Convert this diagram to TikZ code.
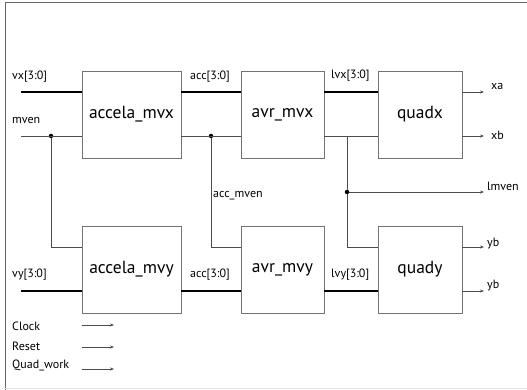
\documentclass[tikz,border=0pt]{standalone}
\usepackage{fontspec}
\setmainfont{PT Sans}
\usetikzlibrary{arrows.meta}
\begin{document}
\begin{tikzpicture}[x=1pt,y=-1pt,
  blk/.style={draw=black!55,line width=0.8pt,fill=white,minimum width=99pt,minimum height=87pt,inner sep=0pt,font=\fontsize{17.5}{18}\selectfont},
  bus/.style={line width=1.6pt,black},
  sig/.style={line width=0.8pt,black!70},
  arr/.style={sig,-{Stealth[length=4pt,width=3pt]}},
  lbl/.style={anchor=base west,inner sep=0pt,font=\fontsize{12}{12}\selectfont},
  dot/.style={circle,fill=black,inner sep=0pt,minimum size=4.5pt}]
\useasboundingbox (0,0) rectangle (527,390);
\draw[black!60,line width=1pt] (5,390) -- (5,3) -- (527,3);
\draw[black!10,line width=0.8pt] (5,388) -- (527,388);

% blocks
\node[blk,minimum width=99pt] (amx) at (131.5,114.5) {accela\_mvx};
\node[blk,minimum width=83pt] (avx) at (282.5,114.5) {avr\_mvx};
\node[blk,minimum width=84pt] (qx) at (420,114.5) {quadx};
\node[blk,minimum width=99pt] (amy) at (131.5,269.5) {accela\_mvy};
\node[blk,minimum width=83pt] (avy) at (282.5,269.5) {avr\_mvy};
\node[blk,minimum width=84pt] (qy) at (420,269.5) {quady};

% coordinates
\coordinate (vxin) at (21,92);
\coordinate (mvin) at (21,136);
\coordinate (vyin) at (21,291);
\node[dot] (d1) at (51,136) {};
\node[dot] (d2) at (211,136) {};
\node[dot] (d3) at (347,192) {};
\coordinate (xaend) at (484,92);
\coordinate (xbend) at (484,136);
\coordinate (lmend) at (484,192);
\coordinate (ya) at (484,247);
\coordinate (yb2) at (484,291);

% buses
\draw[bus] (vxin) -- (vxin -| amx.west);
\draw[bus] (amx.east |- vxin) -- (avx.west |- vxin);
\draw[bus] (avx.east |- vxin) -- (qx.west |- vxin);
\draw[bus] (vyin) -- (vyin -| amy.west);
\draw[bus] (amy.east |- vyin) -- (avy.west |- vyin);
\draw[bus] (avy.east |- vyin) -- (qy.west |- vyin);

% control signals
\draw[sig] (mvin) -- (mvin -| amx.west);
\draw[sig] (d1) |- (amy.west |- 0,247);
\draw[sig] (amx.east |- d2) -- (avx.west |- d2);
\draw[sig] (d2) |- (avy.west |- 0,247);
\draw[sig] (avx.east |- 0,136) -- (qx.west |- 0,136);
\draw[sig] (d3 |- 0,136) -- (d3) |- (qy.west |- 0,247);
\draw[arr] (d3) -- (lmend);

% outputs
\draw[arr] (qx.east |- xaend) -- (xaend);
\draw[arr] (qx.east |- xbend) -- (xbend);
\draw[arr] (qy.east |- ya) -- (ya);
\draw[arr] (qy.east |- yb2) -- (yb2);

% global inputs
\coordinate (ck0) at (82,325); \coordinate (ck1) at (114,325);
\coordinate (rs0) at (82,347); \coordinate (rs1) at (114,347);
\coordinate (qw0) at (82,369); \coordinate (qw1) at (114,369);
\draw[arr] (ck0) -- (ck1);
\draw[arr] (rs0) -- (rs1);
\draw[arr] (qw0) -- (qw1);

% labels
\node[lbl] (lvx) at (12,80) {vx[3:0]};
\node[lbl] (lmv) at (12,124) {mven};
\node[lbl] (lacc1) at (190,80) {acc[3:0]};
\node[lbl] (llvx) at (331,79) {lvx[3:0]};
\node[lbl] (lxa) at (491,90) {xa};
\node[lbl] (lxb) at (491,140) {xb};
\node[lbl] (llm) at (487,190) {lmven};
\node[lbl] (lam) at (213,197) {acc\_mven};
\node[lbl] (lvy) at (12,277) {vy[3:0]};
\node[lbl] (lacc2) at (190,277) {acc[3:0]};
\node[lbl] (llvy) at (331,277) {lvy[3:0]};
\node[lbl] (lya) at (487,246) {yb};
\node[lbl] (lyb) at (487,288) {yb};
\node[lbl] (lck) at (12,330) {Clock};
\node[lbl] (lrs) at (12,350) {Reset};
\node[lbl] (lqw) at (12,368) {Quad\_work};
\end{tikzpicture}
\end{document}
